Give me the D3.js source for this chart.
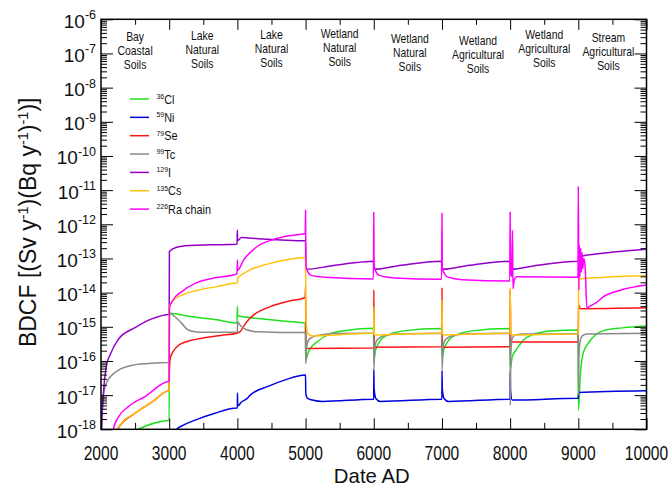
<!DOCTYPE html>
<html>
<head>
<meta charset="utf-8">
<script src="https://cdn.jsdelivr.net/npm/d3@7"></script>
<style>
  html, body { margin: 0; padding: 0; background: #fff; }
  svg { display: block; font-family: "Liberation Sans", Arial, sans-serif; }
</style>
</head>
<body>
<svg id="chart" width="672" height="492"></svg>
<script>
// ---- Dose conversion factors per nuclide: [year AD, BDCF (Sv/y per Bq/y)] ----
const cl36 = [
  [2540,1.0e-18],[2995,1.8e-18],
  [3000,1.8e-18],[3003,2.5e-15],[3300,2.0e-15],[3700,1.6e-15],[3995,1.3e-15],
  [4000,3.9e-15],[4005,2.1e-15],[4383,1.7e-15],[4700,1.45e-15],[4995,1.26e-15],
  [5003,1.0e-16],[5020,1.35e-16],[5069,2.3e-16],[5168,3.6e-16],[5363,6.3e-16],[5600,7.8e-16],[5995,9.1e-16],
  [6003,1.2e-16],[6025,2.0e-16],[6070,3.3e-16],[6145,5.0e-16],[6440,7.6e-16],[6995,8.9e-16],
  [7003,1.2e-16],[7025,2.0e-16],[7070,3.3e-16],[7145,5.0e-16],[7440,7.6e-16],[7995,8.9e-16],
  [8003,6.0e-17],[8030,1.3e-16],[8080,2.0e-16],[8130,2.8e-16],[8200,4.2e-16],[8324,5.8e-16],[8600,7.5e-16],[8995,8.1e-16],
  [9002,3.7e-18],[9030,4.0e-17],[9075,1.8e-16],[9160,3.6e-16],[9360,7.6e-16],[9650,9.3e-16],[10000,1.05e-15]
];
const ni59 = [
  [3090,8.0e-19],[3111,1.0e-18],[3200,1.3e-18],[3380,1.86e-18],[3625,2.75e-18],[3995,4.2e-18],
  [4000,4.2e-18],[4001,1.15e-17],[4005,4.8e-18],[4060,6.3e-18],[4139,7.9e-18],[4188,1.0e-17],[4450,1.8e-17],[4700,2.8e-17],[4995,3.9e-17],
  [5000,3.9e-17],[5003,1.15e-17],[5030,8.0e-18],[5100,7.2e-18],[5250,6.5e-18],[5995,7.6e-18],
  [6000,7.6e-18],[6001,5.5e-17],[6005,1.6e-17],[6030,8.0e-18],[6100,6.5e-18],[6995,7.6e-18],
  [7000,7.6e-18],[7001,5.2e-17],[7005,1.6e-17],[7030,8.0e-18],[7100,6.5e-18],[7995,7.6e-18],
  [8000,7.6e-18],[8001,5.0e-17],[8005,1.5e-17],[8030,7.2e-18],[8995,8.1e-18],
  [9000,8.1e-18],[9003,1.2e-17],[10000,1.35e-17]
];
const se79 = [
  [2220,5.0e-19],[2245,1.0e-18],[2499,2.95e-18],[2750,6.3e-18],[2995,1.35e-17],
  [3000,1.35e-17],[3003,5.0e-17],[3015,1.2e-16],[3060,1.9e-16],[3150,3.0e-16],[3300,3.9e-16],[3500,4.7e-16],[3750,5.6e-16],[3995,6.5e-16],
  [4010,6.8e-16],[4041,7.2e-16],[4100,1.1e-15],[4188,1.8e-15],[4236,2.2e-15],[4482,3.9e-15],[4750,5.6e-15],[4995,7.2e-15],
  [5000,1.48e-14],[5006,2.3e-16],[5995,2.4e-16],
  [6000,2.4e-16],[6001,1.2e-14],[6008,2.5e-16],[6995,2.6e-16],
  [7000,2.6e-16],[7001,1.4e-14],[7008,2.5e-16],[7995,2.6e-16],
  [8000,2.6e-16],[8001,1.2e-14],[8010,3.6e-16],[8995,3.6e-16],
  [9000,3.6e-16],[9003,4.4e-15],[9030,3.4e-15],[10000,3.6e-15]
];
const tc99 = [
  [2005,1.0e-18],[2015,3.0e-18],[2034,1.0e-17],[2070,2.0e-17],[2140,3.5e-17],[2250,5.3e-17],[2480,7.6e-17],[2700,8.4e-17],[2995,9.0e-17],
  [3000,9.0e-17],[3003,2.5e-15],[3080,2.0e-15],[3185,1.26e-15],[3260,8.5e-16],[3340,7.4e-16],[3480,6.9e-16],[3995,6.9e-16],
  [4000,6.9e-16],[4003,1.4e-15],[4041,1.1e-15],[4120,8.5e-16],[4286,7.2e-16],[4995,6.8e-16],
  [5000,6.8e-16],[5003,8.5e-17],[5015,2.5e-16],[5044,4.1e-16],[5100,5.0e-16],[5216,5.8e-16],[5400,6.4e-16],[5995,6.5e-16],
  [6000,6.5e-16],[6003,5.5e-17],[6015,2.5e-16],[6048,4.1e-16],[6145,5.5e-16],[6400,6.3e-16],[6995,6.5e-16],
  [7000,6.5e-16],[7003,5.5e-17],[7015,2.5e-16],[7048,4.1e-16],[7145,5.5e-16],[7400,6.3e-16],[7995,6.5e-16],
  [8000,6.5e-16],[8003,5.1e-18],[8010,1.5e-16],[8030,4.6e-16],[8080,5.8e-16],[8200,6.2e-16],[8995,6.2e-16],
  [9000,6.2e-16],[9003,1.0e-17],[9010,1.5e-16],[9030,4.1e-16],[9060,5.5e-16],[9130,6.2e-16],[10000,6.5e-16]
];
const i129 = [
  [2004,1.0e-19],[2010,1.0e-18],[2034,1.0e-17],[2084,8.0e-17],[2132,1.5e-16],[2254,4.3e-16],[2500,9.5e-16],[2744,1.7e-15],[2995,2.3e-15],
  [3000,2.3e-15],[3003,1.6e-13],[3100,2.1e-13],[3300,2.4e-13],[3600,2.5e-13],[3995,2.6e-13],
  [4000,6.8e-13],[4003,3.3e-13],[4060,4.1e-13],[4300,3.8e-13],[4995,3.3e-13],
  [5000,3.3e-13],[5004,4.8e-14],[5363,6.0e-14],[5650,7.2e-14],[5995,8.3e-14],
  [6000,8.3e-14],[6005,4.8e-14],[6400,6.3e-14],[6995,8.3e-14],
  [7000,8.3e-14],[7005,4.8e-14],[7400,6.3e-14],[7995,8.3e-14],
  [8000,8.3e-14],[8005,4.8e-14],[8400,6.3e-14],[8995,8.3e-14],
  [9000,8.3e-14],[9010,1.12e-13],[9400,1.45e-13],[10000,1.86e-13]
];
const cs135 = [
  [2220,5.0e-19],[2245,1.0e-18],[2300,1.5e-18],[2499,2.95e-18],[2750,6.3e-18],[2995,1.35e-17],
  [3000,1.35e-17],[3003,4.0e-15],[3030,5.0e-15],[3100,6.9e-15],[3200,8.7e-15],[3400,1.15e-14],[3700,1.5e-14],[3995,1.9e-14],
  [4000,1.9e-14],[4003,2.6e-14],[4090,3.6e-14],[4200,4.8e-14],[4400,6.5e-14],[4700,9.0e-14],[4995,1.07e-13],
  [5000,1.07e-13],[5006,1.6e-15],[5030,6.5e-16],[5100,5.4e-16],[5500,5.9e-16],[5995,6.5e-16],
  [6000,6.5e-16],[6001,3.9e-15],[6008,5.8e-16],[6995,6.5e-16],
  [7000,6.5e-16],[7001,6.0e-15],[7008,5.8e-16],[7995,6.5e-16],
  [8000,6.5e-16],[8001,1.4e-14],[8010,5.8e-16],[8995,6.2e-16],
  [9000,6.2e-16],[9005,2.5e-14],[9500,2.9e-14],[10000,3.1e-14]
];
const ra226 = [
  [2160,5.0e-19],[2181,1.0e-18],[2250,2.2e-18],[2401,4.6e-18],[2646,9.1e-18],[2995,2.5e-17],
  [3000,2.5e-17],[3003,3.5e-15],[3060,6.3e-15],[3185,1.07e-14],[3380,1.86e-14],[3625,2.6e-14],[3995,3.5e-14],
  [4000,9.0e-14],[4004,4.5e-14],[4090,8.9e-14],[4286,2.2e-13],[4530,3.6e-13],[4750,4.6e-13],[4995,5.4e-13],
  [5000,2.6e-12],[5005,6.0e-14],[5030,4.2e-14],[5080,3.2e-14],[5300,2.8e-14],[5995,2.5e-14],
  [6000,2.2e-12],[6005,6.0e-14],[6030,4.2e-14],[6080,3.2e-14],[6300,2.7e-14],[6995,2.45e-14],
  [7000,2.1e-12],[7005,5.5e-14],[7030,3.8e-14],[7080,2.9e-14],[7300,2.4e-14],[7995,2.2e-14],
  [8000,2.3e-12],[8008,4.0e-14],[8025,3.0e-14],[8035,6.7e-13],[8042,1.3e-14],[8060,2.4e-14],[8100,2.9e-14],[8995,2.8e-14],
  [9000,1.3e-11],[9008,1.2e-14],[9015,2.5e-13],[9025,3.0e-14],[9035,2.0e-13],[9045,4.0e-14],[9055,1.5e-13],[9065,5.0e-14],[9080,1.0e-13],[9100,6.0e-14],
  [9125,3.6e-15],[9160,3.9e-15],[9250,4.9e-15],[9370,7.6e-15],[9600,1.15e-14],[10000,1.66e-14]
];

// ---- Legend entries, regions and axis ticks ----
const massNumbers = ["36", "59", "79", "99", "129", "135", "226"];
const symbols = ["Cl", "Ni", "Se", "Tc", "I", "Cs", "Ra chain"];
const seriesList = [cl36, ni59, se79, tc99, i129, cs135, ra226];
const regionNames = [
  ["Bay", "Coastal", "Soils"],
  ["Lake", "Natural", "Soils"],
  ["Lake", "Natural", "Soils"],
  ["Wetland", "Natural", "Soils"],
  ["Wetland", "Natural", "Soils"],
  ["Wetland", "Agricultural", "Soils"],
  ["Wetland", "Agricultural", "Soils"],
  ["Stream", "Agricultural", "Soils"]
];
const xTickYears = [2000, 3000, 4000, 5000, 6000, 7000, 8000, 9000, 10000];
const yTickExponents = [-18, -17, -16, -15, -14, -13, -12, -11, -10, -9, -8, -7, -6];

// ---- Styles ----
const colors = ["#1ee01e", "#0000e0", "#ff1414", "#8a8a8a", "#9300c8", "#ffc20a", "#ff00ff"];

(function draw() {
  const svg = d3.select("#chart");
  const pL = 101, pR = 646.5, pT = 19.3, pB = 429.3;

  const x = d3.scaleLinear().domain([2000, 10000]).range([pL, pR]);
  const y = d3.scaleLog().domain([1e-18, 1e-6]).range([pB, pT]);

  svg.append("rect").attr("width", 672).attr("height", 492).attr("fill", "#fff");

  svg.append("clipPath").attr("id", "plot-clip")
    .append("rect").attr("x", pL).attr("y", pT)
    .attr("width", pR - pL).attr("height", pB - pT);

  // Curves
  const line = d3.line().curve(d3.curveMonotoneX).x(d => x(d[0])).y(d => y(d[1]));
  const curves = svg.append("g").attr("clip-path", "url(#plot-clip)");
  seriesList.forEach((s, i) => {
    curves.append("path")
      .attr("d", line(s))
      .attr("fill", "none")
      .attr("stroke", colors[i])
      .attr("stroke-width", 1.5)
      .attr("stroke-linejoin", "round");
  });

  // Axes: ticks pointing inwards on all four sides
  const xMinor = d3.range(2500, 10000, 1000);
  const yMinor = [];
  for (let e = -18; e < -6; e++) for (let m = 2; m <= 9; m++) yMinor.push(m * Math.pow(10, e));
  const yMajor = yTickExponents.map(e => Math.pow(10, e));

  const axes = [
    [d3.axisBottom(x).tickValues(xTickYears).tickSizeInner(-11), `translate(0,${pB})`],
    [d3.axisBottom(x).tickValues(xMinor).tickSizeInner(-6.5), `translate(0,${pB})`],
    [d3.axisTop(x).tickValues(xTickYears).tickSizeInner(-10.5), `translate(0,${pT})`],
    [d3.axisTop(x).tickValues(xMinor).tickSizeInner(-5.5), `translate(0,${pT})`],
    [d3.axisLeft(y).tickValues(yMajor).tickSizeInner(-12), `translate(${pL},0)`],
    [d3.axisLeft(y).tickValues(yMinor).tickSizeInner(-6), `translate(${pL},0)`],
    [d3.axisRight(y).tickValues(yMajor).tickSizeInner(-12), `translate(${pR},0)`],
    [d3.axisRight(y).tickValues(yMinor).tickSizeInner(-6), `translate(${pR},0)`]
  ];
  axes.forEach(([ax, tr]) => {
    const g = svg.append("g").attr("transform", tr)
      .call(ax.tickSizeOuter(0).tickFormat(""));
    g.select(".domain").remove();
    g.selectAll(".tick line").attr("stroke", "#000").attr("stroke-width", 1);
  });

  // Frame
  svg.append("rect")
    .attr("x", pL).attr("y", pT)
    .attr("width", pR - pL).attr("height", pB - pT)
    .attr("fill", "none").attr("stroke", "#000").attr("stroke-width", 1.5);

  // Horizontally condensed text
  function narrowText(parent, px, py, sx) {
    return parent.append("text")
      .attr("transform", `translate(${px},${py}) scale(${sx},1)`)
      .attr("fill", "#111");
  }

  // X tick labels
  xTickYears.forEach(v => {
    narrowText(svg, x(v), 460, 0.8)
      .attr("text-anchor", "middle")
      .attr("font-size", 19.5)
      .text(v);
  });

  // Y tick labels as powers of ten
  yTickExponents.forEach(e => {
    const t = svg.append("text")
      .attr("x", 96).attr("y", y(Math.pow(10, e)) + 8.5)
      .attr("text-anchor", "end")
      .attr("font-size", 19)
      .attr("fill", "#111");
    t.append("tspan").text("10");
    t.append("tspan").attr("dy", -8.5).attr("font-size", 12.5).text(String(e));
  });

  // Axis titles
  narrowText(svg, x(6000) - 2, 483, 0.97)
    .attr("text-anchor", "middle")
    .attr("font-size", 21)
    .text("Date AD");

  const yTitle = svg.append("text")
    .attr("transform", `translate(36,${(pT + pB) / 2 - 2}) rotate(-90)`)
    .attr("text-anchor", "middle")
    .attr("font-size", 23)
    .attr("fill", "#111");
  yTitle.append("tspan").text("BDCF [(Sv y");
  yTitle.append("tspan").attr("dy", -8).attr("font-size", 14.5).text("-1");
  yTitle.append("tspan").attr("dy", 8).text(")(Bq y");
  yTitle.append("tspan").attr("dy", -8).attr("font-size", 14.5).text("-1");
  yTitle.append("tspan").attr("dy", 8).text(")");
  yTitle.append("tspan").attr("dy", -8).attr("font-size", 14.5).text("-1");
  yTitle.append("tspan").attr("dy", 8).text(")]");

  // Region labels centred over each 1000-year interval
  const regionYOffsets = [2, 1, -0.5, -1, 4, 5.5, 0, 3];
  const regionDx = [0, -1, 0, 0, 2, 2, 0, -4];
  regionNames.forEach((lines, i) => {
    const cx = x(2500 + i * 1000) + regionDx[i];
    lines.forEach((txt, k) => {
      narrowText(svg, cx, 39 + regionYOffsets[i] + k * 14.2, 0.8)
        .attr("text-anchor", "middle")
        .attr("font-size", 13)
        .text(txt);
    });
  });

  // Legend
  const legend = svg.append("g");
  symbols.forEach((name, i) => {
    const ly = 99 + i * 18.35;
    legend.append("line")
      .attr("x1", 130).attr("x2", 149)
      .attr("y1", ly).attr("y2", ly)
      .attr("stroke", colors[i]).attr("stroke-width", 1.5);
    const t = narrowText(legend, 156.5, ly + 4.5, 0.87).attr("font-size", 12.5);
    t.append("tspan").attr("font-size", 8).attr("dy", -4.5).text(massNumbers[i]);
    t.append("tspan").attr("dy", 4.5).text(name);
  });
})();
</script>
</body>
</html>
